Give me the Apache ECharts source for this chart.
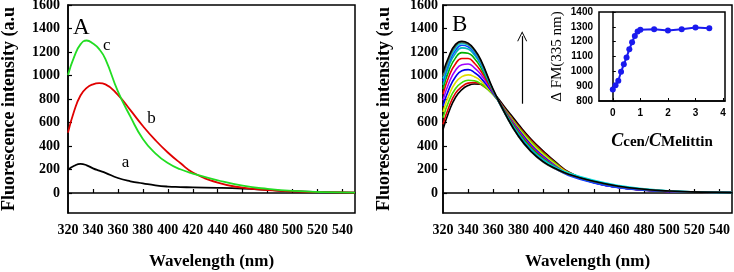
<!DOCTYPE html>
<html>
<head>
<meta charset="utf-8">
<script src="https://cdn.jsdelivr.net/npm/echarts@6/dist/echarts.min.js"></script>
<style>
  html, body { margin: 0; padding: 0; background: #fff; }
  #main_charts { width: 734px; height: 272px; }
</style>
</head>
<body>
<div id="main_charts"></div>
<script>
var myChart = echarts.init(document.getElementById('main_charts'));

// wavelengths (nm) where the spectra were read
var wl = [320, 325, 330, 335, 340, 345, 350, 360, 370, 380, 390, 400, 410, 420, 440, 460, 480, 500, 525, 550];

// panel A
var specA_a = [199, 232, 248, 236, 210, 190, 172, 128, 100, 82, 65, 55, 51, 48, 44, 37, 26, 15, 7, 3];
var specA_b = [514, 700, 830, 895, 925, 935, 925, 835, 705, 570, 450, 345, 255, 175, 88, 45, 24, 14, 7, 3];
var specA_c = [1005, 1160, 1265, 1298, 1272, 1225, 1140, 865, 650, 460, 338, 255, 202, 166, 108, 62, 35, 18, 8, 3];

// panel B, titration (low peak -> high peak)
var specB = [
  [540, 700, 815, 880, 915, 928, 925, 850, 720, 585, 460, 355, 260, 180, 92, 48, 26, 15, 7, 3],
  [585, 740, 850, 905, 935, 940, 925, 840, 705, 570, 448, 345, 253, 175, 90, 47, 25, 14, 7, 3],
  [640, 790, 890, 940, 960, 955, 930, 835, 700, 560, 438, 335, 247, 172, 92, 50, 27, 15, 7, 3],
  [690, 840, 940, 990, 1005, 990, 955, 840, 695, 550, 425, 325, 240, 170, 95, 52, 28, 15, 7, 3],
  [740, 890, 990, 1040, 1050, 1025, 980, 845, 690, 540, 410, 310, 227, 160, 88, 47, 25, 14, 6, 3],
  [790, 945, 1045, 1092, 1098, 1065, 1010, 855, 690, 530, 400, 302, 224, 162, 90, 48, 26, 14, 7, 3],
  [840, 1000, 1100, 1145, 1145, 1105, 1040, 860, 685, 522, 392, 295, 220, 160, 92, 50, 27, 15, 7, 3],
  [885, 1050, 1150, 1195, 1190, 1145, 1070, 865, 680, 515, 385, 290, 218, 160, 94, 52, 28, 15, 7, 3],
  [920, 1090, 1190, 1235, 1225, 1175, 1095, 870, 675, 505, 375, 283, 217, 165, 100, 58, 32, 17, 8, 3],
  [950, 1115, 1215, 1258, 1245, 1192, 1108, 868, 665, 492, 362, 270, 203, 150, 85, 45, 24, 13, 6, 3],
  [975, 1135, 1235, 1272, 1258, 1205, 1118, 870, 662, 488, 358, 268, 213, 170, 108, 64, 36, 19, 9, 3],
  [995, 1150, 1250, 1282, 1265, 1212, 1125, 872, 660, 482, 352, 262, 203, 158, 98, 56, 31, 16, 8, 3],
  [1025, 1170, 1265, 1292, 1275, 1222, 1135, 880, 665, 485, 355, 265, 206, 160, 100, 58, 32, 17, 8, 3]
];
var colorsB = ['#000000', '#e00000', '#44dd00', '#dddd00', '#0000ee', '#a000ff', '#ee0000',
               '#00b000', '#00b8b8', '#1040ff', '#00dddd', '#556655', '#000000'];

// inset: dF at 335 nm vs Ccen/CMelittin
var ratio = [0, 0.1, 0.2, 0.3, 0.4, 0.5, 0.6, 0.7, 0.8, 0.9, 1, 1.5, 2, 2.5, 3, 3.5];
var dF335 = [877, 906, 936, 997, 1047, 1094, 1149, 1196, 1239, 1268, 1280, 1284, 1275, 1284, 1296, 1290];

var yTicks = [0, 200, 400, 600, 800, 1000, 1200, 1400, 1600];
var xLabels = [320, 340, 360, 380, 400, 420, 440, 460, 480, 500, 520, 540];
var insetTicks = [0, 1, 2, 3, 4];

function pairs(xs, ys) {
  var out = [];
  for (var i = 0; i < xs.length; i++) out.push([xs[i], ys[i]]);
  return out;
}
function plain(v) { return String(v); }

var serif = 'Liberation Serif';
var arrowHead = 'path://M0,12 L5,0 L10,12 L9,12 L5,2.4 L1,12 Z';

function mainX(idx) {
  return {
    type: 'value', gridIndex: idx, min: 320, max: 550,
    name: 'Wavelength (nm)', nameLocation: 'middle', nameGap: 40,
    nameTextStyle: { fontFamily: serif, fontWeight: 'bold', fontSize: 17, color: '#000' },
    axisLine: { lineStyle: { color: '#000', width: 1.5 } },
    axisTick: { inside: true, length: 4, lineStyle: { color: '#000', width: 1.2 }, customValues: xLabels.slice(1) },
    axisLabel: { customValues: xLabels, formatter: plain, margin: 10, fontFamily: serif, fontWeight: 'bold', fontSize: 14, color: '#000' },
    splitLine: { show: false }
  };
}
function mainY(idx, margin) {
  return {
    type: 'value', gridIndex: idx, min: -170, max: 1600,
    name: 'Fluorescence intensity (a.u', nameLocation: 'middle', nameGap: 50,
    nameTextStyle: { fontFamily: serif, fontWeight: 'bold', fontSize: 18, color: '#000' },
    axisLine: { lineStyle: { color: '#000', width: 1.5 } },
    axisTick: { inside: true, length: 4, lineStyle: { color: '#000', width: 1.2 }, customValues: yTicks },
    axisLabel: { customValues: yTicks, formatter: plain, margin: margin, fontFamily: serif, fontWeight: 'bold', fontSize: 14, color: '#000' },
    splitLine: { show: false }
  };
}
function tag(text, coord) {
  return {
    coord: coord, value: text,
    label: { show: true, position: 'inside', formatter: text, fontFamily: serif, fontSize: 17, color: '#000' }
  };
}

var series = [];
var curvesA = [[specA_a, '#000000', 'a', [366, 262]], [specA_b, '#e00000', 'b', [387, 637]], [specA_c, '#22dd22', 'c', [351, 1254]]];
curvesA.forEach(function (c) {
  series.push({
    type: 'line', xAxisIndex: 0, yAxisIndex: 0, data: pairs(wl, c[0]),
    showSymbol: false, smooth: 0.5,
    lineStyle: { color: c[1], width: 1.8 }, silent: true,
    markPoint: {
      symbol: 'circle', symbolSize: 1, itemStyle: { color: 'rgba(0,0,0,0)' }, silent: true,
      data: [tag(c[2], c[3])]
    }
  });
});
specB.forEach(function (ys, i) {
  var s = {
    type: 'line', xAxisIndex: 1, yAxisIndex: 1, data: pairs(wl, ys),
    showSymbol: false, smooth: 0.5,
    lineStyle: { color: colorsB[i], width: 1.6 }, silent: true
  };
  if (i === specB.length - 1) {
    s.markLine = {
      silent: true, symbol: ['none', arrowHead], symbolSize: 10,
      lineStyle: { color: '#000', width: 1.2, type: 'solid' },
      label: { show: false },
      data: [[{ coord: [383, 760] }, { coord: [383, 1335] }]]
    };
  }
  series.push(s);
});
series.push({
  type: 'line', xAxisIndex: 2, yAxisIndex: 2, data: pairs(ratio, dF335),
  symbol: 'circle', symbolSize: 6, z: 10,
  lineStyle: { color: '#1a1aee', width: 2 }, itemStyle: { color: '#1a1aee' }, silent: true
});

var option = {
  backgroundColor: '#fff',
  animation: false,
  title: [
    { text: 'A', left: 73, top: 16, padding: 0, textStyle: { fontFamily: serif, fontWeight: 'normal', fontSize: 23, color: '#000' } },
    { text: 'B', left: 452, top: 13, padding: 0, textStyle: { fontFamily: serif, fontWeight: 'normal', fontSize: 23, color: '#000' } }
  ],
  grid: [
    { left: 68, right: 379, top: 5, bottom: 59, outerBoundsMode: 'none', show: true, borderColor: '#000', borderWidth: 1.5 },
    { left: 443, right: 2, top: 5, bottom: 59, outerBoundsMode: 'none', show: true, borderColor: '#000', borderWidth: 1.5 },
    { left: 599, right: 9, top: 12, bottom: 171, outerBoundsMode: 'none', show: true, borderColor: '#000', borderWidth: 1.5, backgroundColor: '#fff', z: 5 }
  ],
  xAxis: [
    mainX(0), mainX(1),
    {
      type: 'value', gridIndex: 2, min: -0.5, max: 4.07,
      name: '{c|C}{s|cen}{s|/}{c|C}{s|Melittin}', nameLocation: 'middle', nameGap: 31,
      nameTextStyle: {
        rich: {
          c: { fontFamily: serif, fontStyle: 'italic', fontWeight: 'bold', fontSize: 18, color: '#000', verticalAlign: 'bottom' },
          s: { fontFamily: serif, fontWeight: 'bold', fontSize: 15, color: '#000', verticalAlign: 'bottom' }
        }
      },
      axisLine: { lineStyle: { color: '#000', width: 1.5 } },
      axisTick: { inside: true, length: 3, lineStyle: { color: '#000' }, customValues: insetTicks },
      axisLabel: { customValues: insetTicks, formatter: plain, margin: 7, fontFamily: 'Liberation Sans', fontWeight: 'bold', fontSize: 10, color: '#000' },
      splitLine: { show: false }, z: 6
    }
  ],
  yAxis: [
    mainY(0, 8), mainY(1, 5),
    {
      type: 'value', gridIndex: 2, min: 800, max: 1400, interval: 100,
      name: 'Δ FM(335 nm)', nameLocation: 'middle', nameGap: 34,
      nameTextStyle: { fontFamily: serif, fontSize: 15, color: '#000' },
      axisLine: { lineStyle: { color: '#000', width: 1.5 } },
      axisTick: { inside: true, length: 3, lineStyle: { color: '#000' } },
      axisLabel: { formatter: plain, margin: 6, fontFamily: 'Liberation Sans', fontWeight: 'bold', fontSize: 10, color: '#000' },
      splitLine: { show: false }, z: 6
    }
  ],
  series: series
};

myChart.setOption(option);
</script>
</body>
</html>
